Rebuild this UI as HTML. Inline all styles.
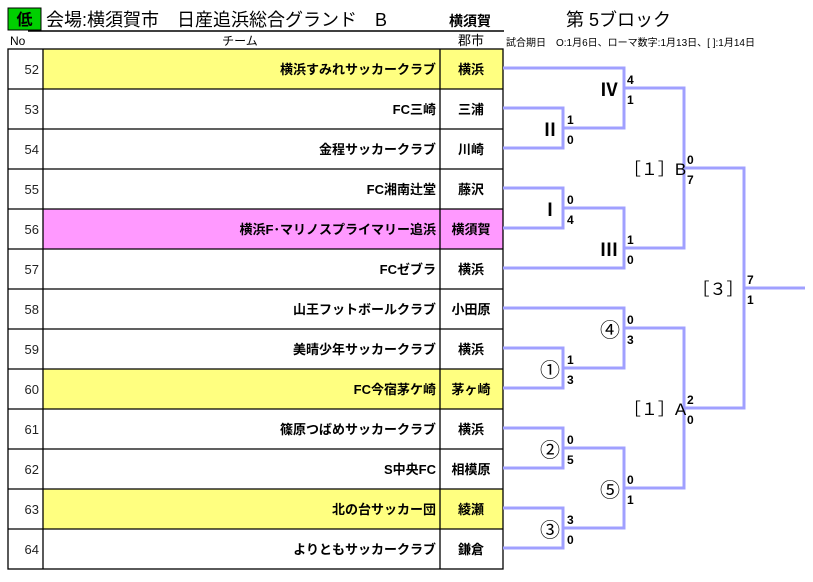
<!DOCTYPE html>
<html><head><meta charset="utf-8"><style>
body{margin:0;background:#fff;width:813px;height:577px;overflow:hidden}
svg text{font-family:"Liberation Sans","Noto Sans CJK JP",sans-serif}
</style></head><body>
<svg width="813" height="577" xmlns="http://www.w3.org/2000/svg">
<rect x="8" y="8" width="33" height="22" fill="#00d000" stroke="#000" stroke-width="1"/>
<text x="24.5" y="25" font-size="16" text-anchor="middle" font-weight="bold">低</text>
<text x="46" y="26" font-size="18">会場:横須賀市　日産追浜総合グランド　B</text>
<text x="449" y="26" font-size="14" font-weight="bold">横須賀</text>
<text x="566" y="26" font-size="18">第 5ブロック</text>
<line x1="28" y1="31" x2="504" y2="31" stroke="#000" stroke-width="1.5"/>
<text x="10" y="45" font-size="12">No</text>
<text x="240" y="45" font-size="12" text-anchor="middle">チーム</text>
<text x="471" y="45" font-size="13" text-anchor="middle">郡市</text>
<text x="506" y="46" font-size="10">試合期日　O:1月6日、ローマ数字:1月13日、[ ]:1月14日</text>
<g>
<rect x="43" y="49" width="460" height="40" fill="#ffff80"/>
<rect x="43" y="209" width="460" height="40" fill="#ff99ff"/>
<rect x="43" y="369" width="460" height="40" fill="#ffff80"/>
<rect x="43" y="489" width="460" height="40" fill="#ffff80"/>
</g>
<g stroke="#000" stroke-width="1.3" fill="none">
<rect x="8" y="49" width="495" height="520"/>
<line x1="43" y1="49" x2="43" y2="569"/>
<line x1="440" y1="49" x2="440" y2="569"/>
<line x1="8" y1="89" x2="503" y2="89"/><line x1="8" y1="129" x2="503" y2="129"/>
<line x1="8" y1="169" x2="503" y2="169"/><line x1="8" y1="209" x2="503" y2="209"/>
<line x1="8" y1="249" x2="503" y2="249"/><line x1="8" y1="289" x2="503" y2="289"/>
<line x1="8" y1="329" x2="503" y2="329"/><line x1="8" y1="369" x2="503" y2="369"/>
<line x1="8" y1="409" x2="503" y2="409"/><line x1="8" y1="449" x2="503" y2="449"/>
<line x1="8" y1="489" x2="503" y2="489"/><line x1="8" y1="529" x2="503" y2="529"/>
</g>
<g font-size="13" text-anchor="end" fill="#222">
<text x="39" y="74">52</text><text x="39" y="114">53</text><text x="39" y="154">54</text>
<text x="39" y="194">55</text><text x="39" y="234">56</text><text x="39" y="274">57</text>
<text x="39" y="314">58</text><text x="39" y="354">59</text><text x="39" y="394">60</text>
<text x="39" y="434">61</text><text x="39" y="474">62</text><text x="39" y="514">63</text>
<text x="39" y="554">64</text>
</g>
<g font-size="13" font-weight="bold" text-anchor="end">
<text x="436" y="74">横浜すみれサッカークラブ</text>
<text x="436" y="114">FC三崎</text>
<text x="436" y="154">金程サッカークラブ</text>
<text x="436" y="194">FC湘南辻堂</text>
<text x="436" y="234">横浜F･マリノスプライマリー追浜</text>
<text x="436" y="274">FCゼブラ</text>
<text x="436" y="314">山王フットボールクラブ</text>
<text x="436" y="354">美晴少年サッカークラブ</text>
<text x="436" y="394">FC今宿茅ケ崎</text>
<text x="436" y="434">篠原つばめサッカークラブ</text>
<text x="436" y="474">S中央FC</text>
<text x="436" y="514">北の台サッカー団</text>
<text x="436" y="554">よりともサッカークラブ</text>
</g>
<g font-size="13" font-weight="bold" text-anchor="middle">
<text x="471" y="74">横浜</text><text x="471" y="114">三浦</text><text x="471" y="154">川崎</text>
<text x="471" y="194">藤沢</text><text x="471" y="234">横須賀</text><text x="471" y="274">横浜</text>
<text x="471" y="314">小田原</text><text x="471" y="354">横浜</text><text x="471" y="394">茅ヶ崎</text>
<text x="471" y="434">横浜</text><text x="471" y="474">相模原</text><text x="471" y="514">綾瀬</text>
<text x="471" y="554">鎌倉</text>
</g>
<g stroke="#a0a0ff" stroke-width="3" fill="none">
<polyline points="503,68 624,68 624,128 563,128"/>
<polyline points="503,108 563,108 563,148 503,148"/>
<polyline points="624,88 684,88 684,248 624,248"/>
<polyline points="503,188 563,188 563,228 503,228"/>
<polyline points="563,208 624,208 624,268 503,268"/>
<polyline points="684,168 744,168 744,408 684,408"/>
<line x1="744" y1="288" x2="805" y2="288"/>
<polyline points="503,308 624,308 624,368 563,368"/>
<polyline points="503,348 563,348 563,388 503,388"/>
<polyline points="624,328 684,328 684,488 624,488"/>
<polyline points="503,428 563,428 563,468 503,468"/>
<polyline points="563,448 624,448 624,528 563,528"/>
<polyline points="503,508 563,508 563,548 503,548"/>
</g>
<g font-size="12" font-weight="bold">
<text x="627" y="84">4</text><text x="627" y="104">1</text>
<text x="567" y="124">1</text><text x="567" y="144">0</text>
<text x="567" y="204">0</text><text x="567" y="224">4</text>
<text x="627" y="244">1</text><text x="627" y="264">0</text>
<text x="687" y="164">0</text><text x="687" y="184">7</text>
<text x="747" y="284">7</text><text x="747" y="304">1</text>
<text x="627" y="324">0</text><text x="627" y="344">3</text>
<text x="567" y="364">1</text><text x="567" y="384">3</text>
<text x="687" y="404">2</text><text x="687" y="424">0</text>
<text x="567" y="444">0</text><text x="567" y="464">5</text>
<text x="627" y="484">0</text><text x="627" y="504">1</text>
<text x="567" y="524">3</text><text x="567" y="544">0</text>
</g>
<g font-size="18" text-anchor="middle" style="font-family:'Liberation Serif','Noto Serif CJK SC',serif" font-weight="bold">
<text x="609" y="96">Ⅳ</text><text x="550" y="136">Ⅱ</text>
<text x="550" y="216">Ⅰ</text><text x="609" y="256">Ⅲ</text>
</g>
<g font-size="17" text-anchor="middle">
<text x="655" y="175">［１］B</text><text x="718" y="295">［３］</text>
<text x="655" y="415">［１］A</text>
</g>
<g font-size="20" text-anchor="middle">
<text x="610" y="337">④</text><text x="550" y="377">①</text>
<text x="550" y="457">②</text><text x="610" y="497">⑤</text>
<text x="550" y="537">③</text>
</g>
</svg>
</body></html>
